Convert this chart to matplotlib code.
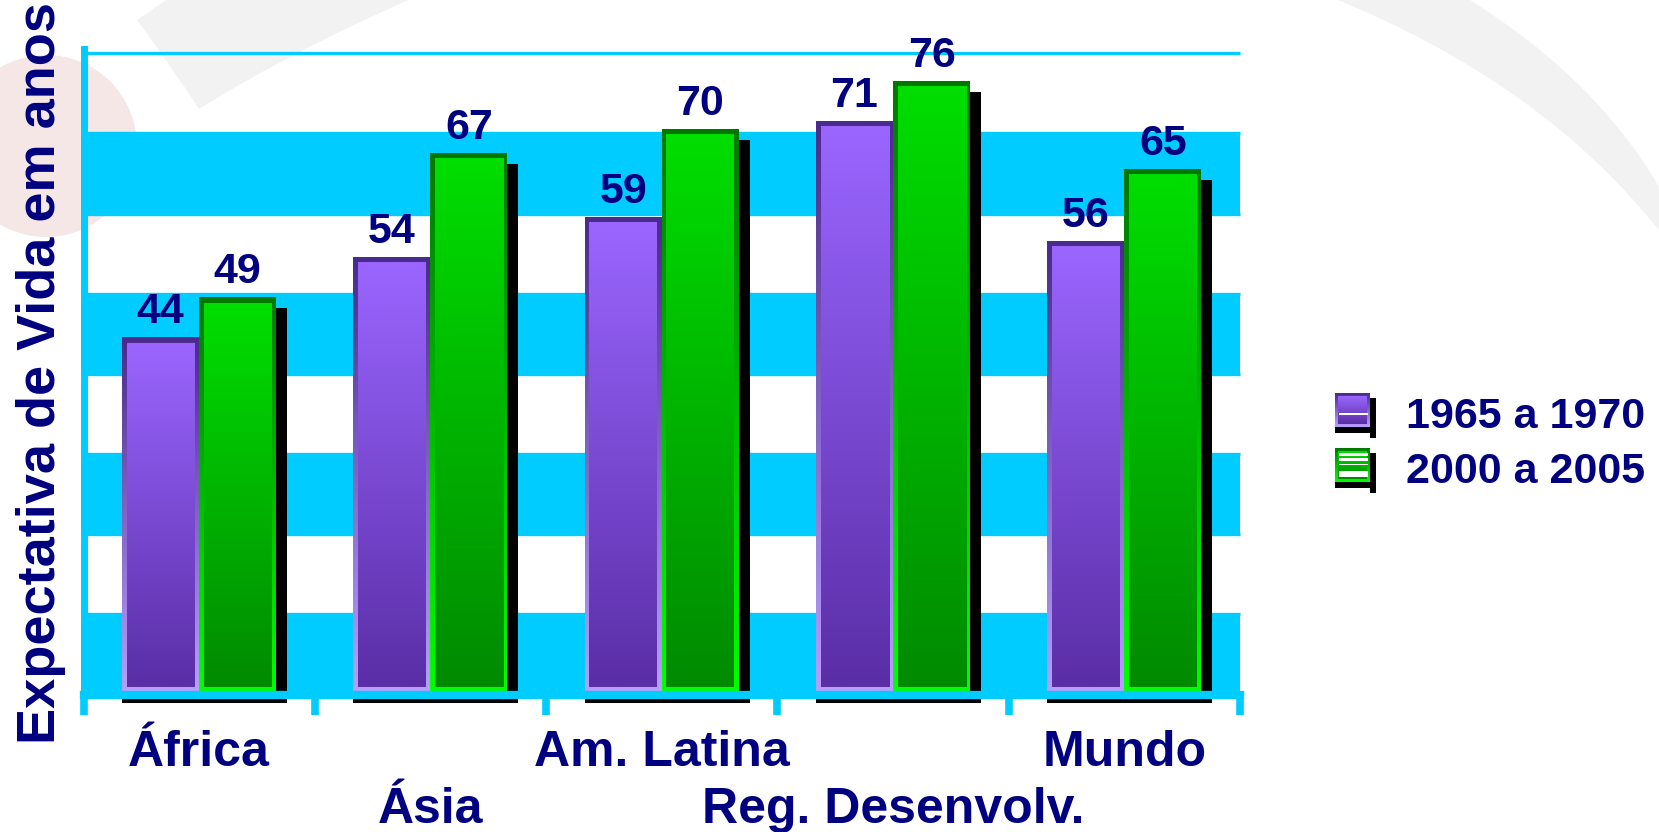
import numpy as np
import matplotlib
matplotlib.use("Agg")
import matplotlib.pyplot as plt
from matplotlib.path import Path
from matplotlib.patches import PathPatch, Circle, Rectangle
from matplotlib.colors import to_rgb

# ---- data ----
regions = ["África", "Ásia", "Am. Latina", "Reg. Desenvolv.", "Mundo"]
life_1965_1970 = [44, 54, 59, 71, 56]
life_2000_2005 = [49, 67, 70, 76, 65]
series_names = ["1965 a 1970", "2000 a 2005"]
y_label = "Expectativa de Vida em anos"

W, H = 1659, 832
plt.rcParams['font.family'] = ['Liberation Sans', 'DejaVu Sans']
fig = plt.figure(figsize=(W / 100, H / 100), dpi=100)
fig.patch.set_facecolor('white')

NAVY = '#000080'
CYAN = '#00ccff'
PURPLE = dict(fill=('#9a66ff', '#5a2ea6'), edge=('#4a2a8c', '#b8a0ff'))
GREEN = dict(fill=('#00de00', '#008a00'), edge=('#007800', '#00ff00'))


def vgrad(c_top, c_bot, n=256):
    t = np.linspace(0, 1, n)[:, None, None]
    a = np.array(to_rgb(c_top))
    b = np.array(to_rgb(c_bot))
    return np.repeat((1 - t) * a + t * b, 2, axis=1)


# ---- background decoration, pixel coordinates (y downwards) ----
bg = fig.add_axes([0, 0, 1, 1], zorder=0)
bg.set_xlim(0, W)
bg.set_ylim(H, 0)
bg.axis('off')

bg.add_patch(Circle((46, 146), 91, color='#f6e7e7', lw=0, zorder=0))
swoosh_left = Path(
    [(169, -2), (137, 20), (172, 67), (199, 109), (294, 50), (413, -2), (169, -2)],
    [Path.MOVETO, Path.LINETO, Path.CURVE3, Path.CURVE3, Path.CURVE3, Path.CURVE3,
     Path.CLOSEPOLY])
swoosh_right = Path(
    [(1333, -2), (1544, 83.5), (1661, 233), (1661, 190), (1597, 79), (1467, -2), (1333, -2)],
    [Path.MOVETO, Path.CURVE3, Path.CURVE3, Path.LINETO, Path.CURVE3, Path.CURVE3,
     Path.CLOSEPOLY])
for p in (swoosh_left, swoosh_right):
    bg.add_patch(PathPatch(p, facecolor='#f2f2f2', edgecolor='none', zorder=0))

# ---- main axes ----
x_left, x_right = 83.5, 1240.0
y_zero, y_top = 694.5, 53.3
ax = fig.add_axes([x_left / W, (H - y_zero) / H, (x_right - x_left) / W,
                   (y_zero - y_top) / H], zorder=1)
ax.patch.set_alpha(0)
n_cat = len(regions)
xpx = (x_right - x_left) / n_cat      # pixels per category
ypx = (y_zero - y_top) / 80.0          # pixels per year

for lo in (0, 20, 40, 60):
    ax.axhspan(lo, lo + 10, color=CYAN, lw=0, zorder=0.5)
for g in range(10, 90, 10):
    ax.axhline(g, color=CYAN, lw=2.4, zorder=0.6, clip_on=False,
               solid_capstyle='butt')

bar_w = 77 / xpx
bord_x = 4.5 / xpx
bord_y = 4.5 / ypx
shadow_w = 11 / xpx
shadow_drop = 8.5 / ypx


def draw_bar(x0, x1, value, style):
    top = value + 3.5 / ypx
    ax.imshow(vgrad(*style['edge']), extent=(x0, x1, 0, top), origin='upper',
              aspect='auto', interpolation='bilinear', zorder=2)
    ax.imshow(vgrad(*style['fill']), extent=(x0 + bord_x, x1 - bord_x, 7.8 / ypx, top - bord_y),
              origin='upper', aspect='auto', interpolation='bilinear', zorder=2.1)
    return top


for i, (v1, v2) in enumerate(zip(life_1965_1970, life_2000_2005)):
    c = i
    p0, p1 = c - bar_w, c
    g0, g1 = c, c + bar_w
    top1 = draw_bar(p0, p1, v1, PURPLE)
    top2 = draw_bar(g0, g1, v2, GREEN)
    # depth shadow to the right and below
    ax.add_patch(Rectangle((g1, -shadow_drop), shadow_w, top2 - 10 / ypx + shadow_drop,
                           color='black', lw=0, zorder=1.5, clip_on=False))
    ax.add_patch(Rectangle((p0, -shadow_drop), g1 + shadow_w - p0, shadow_drop,
                           color='black', lw=0, zorder=1.5, clip_on=False))
    for xc, v in (((p0 + p1) / 2, v1), ((g0 + g1) / 2, v2)):
        ax.annotate(str(v), (xc, v), xytext=(0, 13.3), textcoords='offset points',
                    ha='center', va='baseline', fontsize=31, fontweight='bold',
                    color=NAVY, zorder=5, annotation_clip=False)

# staggered category labels
for i, name in enumerate(regions):
    off = -51.5 if i % 2 == 0 else -92.5
    ax.annotate(name, (i, 0), xytext=(0, off), textcoords='offset points',
                ha='center', va='baseline', fontsize=36, fontweight='bold',
                color=NAVY, annotation_clip=False)

ax.set_xlim(-0.5, n_cat - 0.5)
ax.set_ylim(0, 80)
for s in ('top', 'right'):
    ax.spines[s].set_visible(False)
ax.spines['left'].set_color(CYAN)
ax.spines['left'].set_linewidth(5)
ax.spines['left'].set_bounds(0, 80.5)
ax.spines['bottom'].set_color(CYAN)
ax.spines['bottom'].set_linewidth(6)
ax.spines['left'].set_zorder(3)
ax.spines['bottom'].set_zorder(3)
ax.set_xticks(np.arange(-0.5, n_cat, 1.0))
ax.set_xticklabels([])
ax.tick_params(axis='x', direction='out', length=14.5, width=5.5, color=CYAN)
ax.set_yticks([])

fig.text(55 / W, 1 - 373 / H, y_label, rotation=90, rotation_mode='anchor',
         ha='center', va='baseline', fontsize=39, fontweight='bold', color=NAVY)

# ---- legend (pixel coordinates) ----
def legend_box(y0, style, stripes):
    x0, x1, y1 = 1335, 1370, y0 + 34
    bg.add_patch(Rectangle((x1, y0 + 5), 6, 40, color='black', lw=0, zorder=2))
    bg.add_patch(Rectangle((x0, y1), 41, 6, color='black', lw=0, zorder=2))
    bg.imshow(vgrad(*style['edge']), extent=(x0, x1, y1, y0), origin='upper',
              aspect='auto', interpolation='bilinear', zorder=3)
    bg.imshow(vgrad(*style['fill']), extent=(x0 + 3, x1 - 3, y1 - 3, y0 + 3),
              origin='upper', aspect='auto', interpolation='bilinear', zorder=3.1)
    for sy, sh in stripes:
        bg.add_patch(Rectangle((x0 + 4, y0 + sy), x1 - x0 - 6, sh, color='white',
                               lw=0, zorder=3.2))


legend_box(393, PURPLE, [(20, 1.6)])
legend_box(448, GREEN, [(4.5, 3.5), (9.5, 3.5), (15.5, 1.2), (22.5, 6.5)])
bg.set_xlim(0, W)
bg.set_ylim(H, 0)

for yb, name in zip((428, 483), series_names):
    bg.text(1406, yb, name, ha='left', va='baseline', fontsize=31,
            fontweight='bold', color=NAVY, zorder=4)

fig.savefig('out.png', dpi=100, facecolor='white')
